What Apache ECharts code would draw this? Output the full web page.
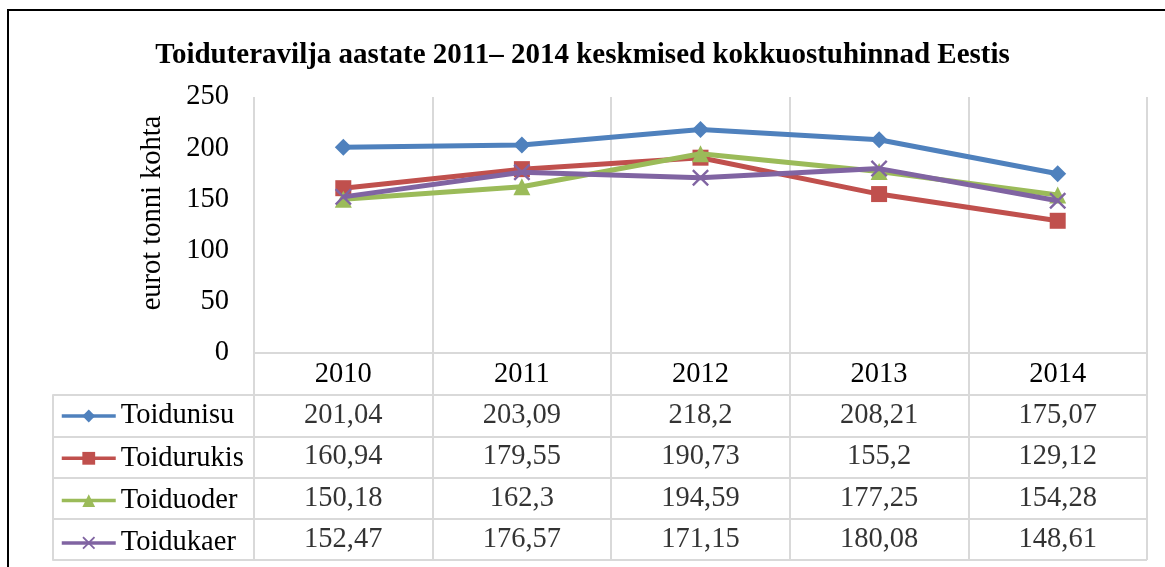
<!DOCTYPE html>
<html>
<head>
<meta charset="utf-8">
<title>Toiduteravilja kokkuostuhinnad</title>
<script src="https://cdn.jsdelivr.net/npm/echarts@6/dist/echarts.min.js"></script>
<style>
  html, body { margin: 0; padding: 0; background: #fff; }
  #chart { width: 1165px; height: 567px; }
</style>
</head>
<body>
<div id="chart"></div>
<script>
// andmed
const years = ['2010', '2011', '2012', '2013', '2014'];
const seriesNames = ['Toidunisu', 'Toidurukis', 'Toiduoder', 'Toidukaer'];
const toidunisu = [201.04, 203.09, 218.2, 208.21, 175.07];
const toidurukis = [160.94, 179.55, 190.73, 155.2, 129.12];
const toiduoder = [150.18, 162.3, 194.59, 177.25, 154.28];
const toidukaer = [152.47, 176.57, 171.15, 180.08, 148.61];
const yMax = 250;
const yStep = 50;

const rows = [toidunisu, toidurukis, toiduoder, toidukaer];
const colors = ['#4F81BD', '#C0504D', '#9BBB59', '#8064A2'];
const symbols = [
  'diamond',
  'rect',
  'triangle',
  'path://M0,1L1,0L5,4L9,0L10,1L6,5L10,9L9,10L5,6L1,10L0,9L4,5Z'
];
const symbolSizes = [17, 16, 17, 17];

const font = 'Liberation Serif';
const fs = 28.5;
const gridColor = '#D9D9D9';

// tabeli lahtrid
const cells = [];
rows.forEach((arr, r) => {
  arr.forEach((v, c) => cells.push([c, r, v]));
});

const chart = echarts.init(document.getElementById('chart'));

chart.setOption({
  animation: false,
  textStyle: { fontFamily: font },
  graphic: [{
    type: 'rect',
    shape: { x: 8, y: 10, width: 1300, height: 700 },
    style: { fill: 'none', stroke: '#000', lineWidth: 2 },
    silent: true
  }],
  title: {
    text: 'Toiduteravilja aastate 2011– 2014 keskmised kokkuostuhinnad Eestis',
    left: 'center',
    top: 36,
    textStyle: { fontFamily: font, fontSize: 29, fontWeight: 'bold', color: '#000' }
  },
  legend: {
    data: seriesNames,
    orient: 'vertical',
    left: 60,
    top: 401.5,
    padding: 0,
    itemWidth: 54,
    itemHeight: 16,
    itemGap: 13.3,
    lineStyle: { width: 3.5 },
    textStyle: { fontFamily: font, fontSize: fs, color: '#000', lineHeight: 28 }
  },
  grid: [
    { left: 254, top: 97, width: 893, height: 256 },
    { left: 254, top: 395, width: 893, height: 165 },
    { left: 254, top: 353, width: 893, height: 42 }
  ],
  xAxis: [
    {
      gridIndex: 0,
      type: 'category',
      data: years,
      boundaryGap: true,
      axisLine: { lineStyle: { color: gridColor, width: 2 } },
      axisTick: { show: false },
      axisLabel: { margin: 7, fontFamily: font, fontSize: fs, color: '#000' },
      splitLine: { show: true, lineStyle: { color: gridColor, width: 2 } }
    },
    {
      gridIndex: 1,
      type: 'category',
      data: years,
      boundaryGap: true,
      axisLine: { show: false },
      axisTick: { show: false },
      axisLabel: { show: false },
      splitLine: { show: true, lineStyle: { color: gridColor, width: 2 } }
    },
    {
      gridIndex: 2,
      type: 'category',
      data: years,
      boundaryGap: true,
      axisLine: { show: false },
      axisTick: { show: false },
      axisLabel: { show: false },
      splitLine: { show: true, lineStyle: { color: gridColor, width: 2 } }
    }
  ],
  yAxis: [
    {
      gridIndex: 0,
      type: 'value',
      min: 0,
      max: yMax,
      interval: yStep,
      name: 'eurot tonni kohta',
      nameLocation: 'middle',
      nameGap: 87,
      nameTextStyle: { fontFamily: font, fontSize: fs, color: '#000', padding: [0, 0, 0, 24] },
      axisLine: { show: false },
      axisTick: { show: false },
      axisLabel: { margin: 25, fontFamily: font, fontSize: fs, color: '#000' },
      splitLine: { show: false }
    },
    {
      gridIndex: 1,
      type: 'category',
      data: seriesNames,
      inverse: true,
      boundaryGap: true,
      axisLine: { show: true, lineStyle: { color: gridColor, width: 2 } },
      axisTick: { show: true, length: 201, lineStyle: { color: gridColor, width: 2 } },
      axisLabel: { show: false },
      splitLine: { show: true, lineStyle: { color: gridColor, width: 2 } }
    },
    {
      gridIndex: 1,
      type: 'value',
      position: 'left',
      offset: 201,
      min: 0,
      max: 1,
      axisLine: { show: true, lineStyle: { color: gridColor, width: 2 } },
      axisTick: { show: false },
      axisLabel: { show: false },
      splitLine: { show: false }
    },
    {
      gridIndex: 2,
      type: 'value',
      show: false
    }
  ],
  series: seriesNames.map((name, i) => ({
    name: name,
    type: 'line',
    xAxisIndex: 0,
    yAxisIndex: 0,
    data: rows[i],
    symbol: symbols[i],
    symbolSize: symbolSizes[i],
    showAllSymbol: true,
    color: colors[i],
    lineStyle: { width: 5, color: colors[i] },
    itemStyle: { color: colors[i] },
    z: 3 + i
  })).concat([{
    name: 'tabel',
    type: 'scatter',
    xAxisIndex: 1,
    yAxisIndex: 1,
    data: cells,
    symbolSize: 0,
    silent: true,
    label: {
      show: true,
      position: 'inside',
      fontFamily: font,
      fontSize: fs,
      color: '#000',
      formatter: p => String(p.value[2]).replace('.', ',')
    }
  }])
});
</script>
</body>
</html>
